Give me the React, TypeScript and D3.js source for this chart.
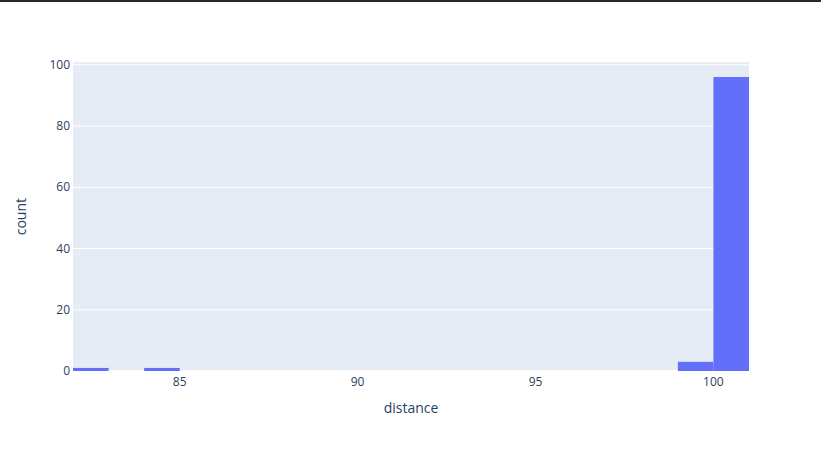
import React from "react";
import * as d3 from "d3";

const binStarts = [82, 83, 84, 85, 86, 87, 88, 89, 90, 91, 92, 93, 94, 95, 96, 97, 98, 99, 100];
const binCounts = [1, 0, 1, 0, 0, 0, 0, 0, 0, 0, 0, 0, 0, 0, 0, 0, 0, 3, 96];
const xTicks = [85, 90, 95, 100];
const yTicks = [0, 20, 40, 60, 80, 100];
const xTitle = "distance";
const yTitle = "count";

const W = 821;
const H = 451;
const plotLeft = 73;
const plotRight = 749;
const plotTop = 62.3;
const plotBottom = 371;

export default function App() {
  const x = d3.scaleLinear().domain([82, 101]).range([plotLeft, plotRight]);
  const y = d3.scaleLinear().domain([0, 96 * 1.05]).range([plotBottom, plotTop]);
  const font = "'Open Sans', verdana, arial, sans-serif";
  const textColor = "#2a3f5f";
  return (
    <svg
      width={W}
      height={H}
      style={{ position: "absolute", top: 0, left: 0, background: "#fff" }}
      fontFamily={font}
    >
      <rect x={0} y={0} width={W} height={2} fill="#2a2a22" />
      <rect
        x={plotLeft}
        y={plotTop}
        width={plotRight - plotLeft}
        height={plotBottom - plotTop}
        fill="#e5ecf6"
      />
      {yTicks.map((t) => (
        <line
          key={"g" + t}
          x1={plotLeft}
          x2={plotRight}
          y1={y(t)}
          y2={y(t)}
          stroke="#fff"
          strokeWidth={t === 0 ? 2 : 1}
        />
      ))}
      {binStarts.map((b, i) =>
        binCounts[i] > 0 ? (
          <rect
            key={"b" + b}
            x={x(b)}
            y={y(binCounts[i])}
            width={x(b + 1) - x(b)}
            height={y(0) - y(binCounts[i])}
            fill="#636efa"
          />
        ) : null
      )}
      {yTicks.map((t) => (
        <text
          key={"yt" + t}
          x={plotLeft - 3}
          y={y(t)}
          dy="0.35em"
          textAnchor="end"
          fontSize={12}
          fill={textColor}
        >
          {t}
        </text>
      ))}
      {xTicks.map((t) => (
        <text
          key={"xt" + t}
          x={x(t)}
          y={plotBottom + 14.5}
          textAnchor="middle"
          fontSize={12}
          fill={textColor}
        >
          {t}
        </text>
      ))}
      <text
        x={(plotLeft + plotRight) / 2}
        y={413}
        textAnchor="middle"
        fontSize={14}
        fill={textColor}
      >
        {xTitle}
      </text>
      <text
        transform={`translate(25.5,${(plotTop + plotBottom) / 2}) rotate(-90)`}
        textAnchor="middle"
        fontSize={14}
        fill={textColor}
      >
        {yTitle}
      </text>
    </svg>
  );
}
